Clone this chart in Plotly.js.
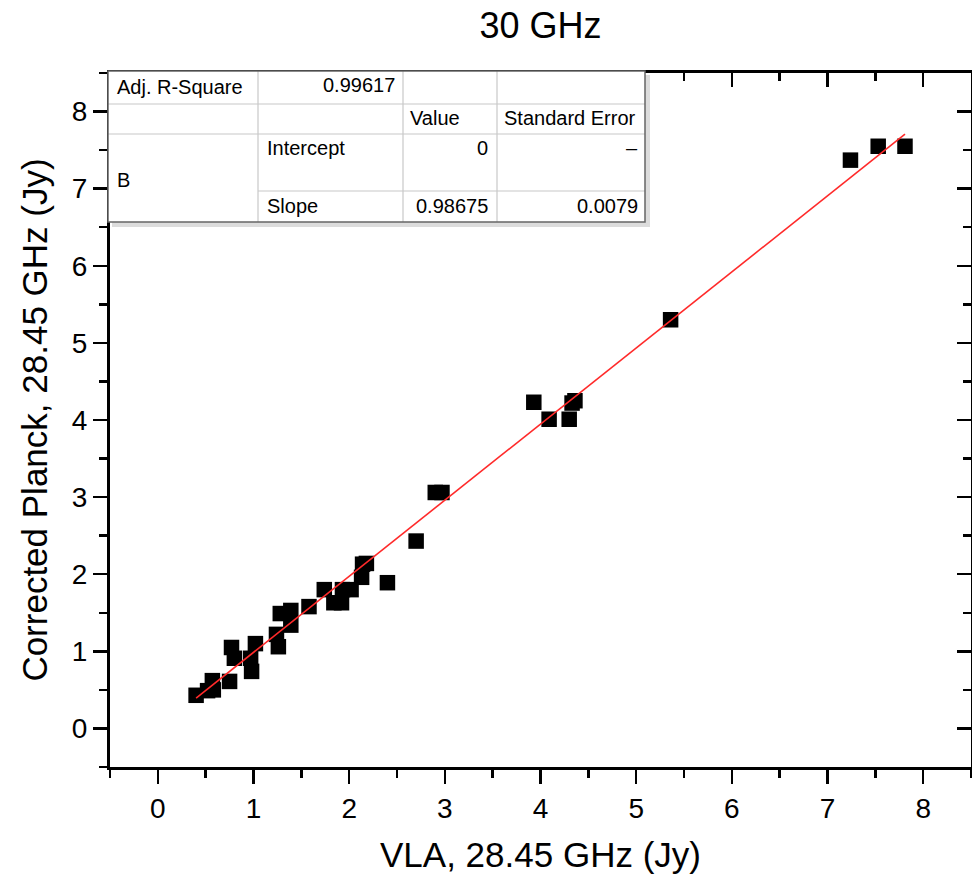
<!DOCTYPE html>
<html>
<head>
<meta charset="utf-8">
<script src="https://cdn.plot.ly/plotly-3.0.1.min.js"></script>
<style>html,body{margin:0;padding:0;background:#fff;}#chart{width:972px;height:877px;}</style>
</head>
<body>
<div id="chart"></div>
<script>
// ---- data ----
const vlaFlux = [0.40, 0.52, 0.58, 0.57, 0.75, 0.77, 0.80, 0.97, 0.98, 1.02,
                 1.24, 1.26, 1.28, 1.39, 1.39, 1.58, 1.74, 1.84, 1.92, 1.93,
                 2.02, 2.13, 2.14, 2.18, 2.40, 2.70, 2.90, 2.97, 3.93, 4.09,
                 4.30, 4.33, 4.36, 5.36, 7.24, 7.53, 7.81];
const planckFlux = [0.43, 0.49, 0.50, 0.62, 0.61, 1.05, 0.91, 0.91, 0.74, 1.10,
                    1.22, 1.06, 1.49, 1.53, 1.34, 1.58, 1.80, 1.63, 1.63, 1.80,
                    1.80, 1.96, 2.13, 2.14, 1.89, 2.43, 3.06, 3.06, 4.23, 4.01,
                    4.01, 4.22, 4.25, 5.30, 7.37, 7.55, 7.55];
const adjRSquare = 0.99617;
const fitIntercept = 0;
const fitSlope = 0.98675;
const slopeError = 0.0079;
const tickValues = [0, 1, 2, 3, 4, 5, 6, 7, 8];
const tickLabels = ['0', '1', '2', '3', '4', '5', '6', '7', '8'];
const chartTitle = '30 GHz';
const xTitle = 'VLA, 28.45 GHz (Jy)';
const yTitle = 'Corrected Planck, 28.45 GHz (Jy)';
const tableHeader = ['Value', 'Standard Error'];
const tableRows = ['Intercept', 'Slope'];
const tableGroup = 'B';

// ---- fit line from data ----
const fitX = [Math.min(...vlaFlux), Math.max(...vlaFlux)];
const fitY = fitX.map(x => fitIntercept + fitSlope * x);

// ---- layout geometry ----
const L = 110, T = 73, R = 1, B = 110;
const FIG_W = 972, FIG_H = 877;
const W = FIG_W - L - R, H = FIG_H - T - B;
const px = x => (x - L) / W;
const py = y => 1 - (y - T) / H;
const FONT = 'Liberation Sans, Arial, Helvetica, sans-serif';

const axisCommon = {
  range: [-0.5, 8.5],
  tickmode: 'array', tickvals: tickValues, ticktext: tickLabels,
  showline: true, linecolor: '#000', linewidth: 3,
  tickcolor: '#000', tickwidth: 2.5, ticklen: 14,
  showgrid: false, zeroline: false,
  minor: {tickmode: 'linear', tick0: 0.5, dtick: 1, ticklen: 8, tickwidth: 2.5, tickcolor: '#000', showgrid: false},
  tickfont: {family: FONT, size: 28, color: '#000'}
};

const traces = [
  {x: vlaFlux, y: planckFlux, type: 'scatter', mode: 'markers',
   marker: {symbol: 'square', size: 15.5, color: '#000', line: {width: 0}},
   showlegend: false, hoverinfo: 'x+y'},
  {x: fitX, y: fitY, type: 'scatter', mode: 'lines',
   line: {color: '#ff2a2a', width: 1.6}, showlegend: false},
  {x: [], y: [], xaxis: 'x2', yaxis: 'y2', type: 'scatter', mode: 'markers', showlegend: false, hoverinfo: 'skip'}
];

// table shapes
const tl = 108, tr = 645, tt = 71, tb = 222;
const colX = [258, 403, 497];
const rowY = [104, 134];
const shapes = [];
shapes.push({type: 'rect', xref: 'paper', yref: 'paper', x0: px(tl + 4), x1: px(tr + 5), y0: py(tt + 4), y1: py(tb + 5),
  fillcolor: '#dcdcdc', line: {width: 0}, layer: 'above'});
shapes.push({type: 'rect', xref: 'paper', yref: 'paper', x0: px(tl), x1: px(tr), y0: py(tt), y1: py(tb),
  fillcolor: '#fff', line: {width: 0}, layer: 'above'});
colX.forEach(c => shapes.push({type: 'line', xref: 'paper', yref: 'paper', x0: px(c), x1: px(c), y0: py(tt), y1: py(tb),
  line: {color: '#c8c8c8', width: 1.2}, layer: 'above'}));
rowY.forEach(r => shapes.push({type: 'line', xref: 'paper', yref: 'paper', x0: px(tl), x1: px(tr), y0: py(r), y1: py(r),
  line: {color: '#c8c8c8', width: 1.2}, layer: 'above'}));
shapes.push({type: 'line', xref: 'paper', yref: 'paper', x0: px(colX[0]), x1: px(tr), y0: py(191), y1: py(191),
  line: {color: '#c8c8c8', width: 1.2}, layer: 'above'});
shapes.push({type: 'rect', xref: 'paper', yref: 'paper', x0: px(tl), x1: px(tr), y0: py(tt), y1: py(tb),
  fillcolor: 'rgba(0,0,0,0)', line: {color: '#666', width: 1.5}, layer: 'above'});

const cellFont = {family: FONT, size: 20, color: '#000'};
function cell(text, x, y, anchor) {
  return {text: text, xref: 'paper', yref: 'paper', x: px(x), y: py(y), xanchor: anchor, yanchor: 'middle',
          showarrow: false, font: cellFont};
}
const annotations = [
  cell('Adj. R-Square', 115, 87, 'left'),
  cell(adjRSquare.toFixed(5), 397, 85, 'right'),
  cell(tableHeader[0], 408, 118, 'left'),
  cell(tableHeader[1], 502, 118, 'left'),
  cell(tableRows[0], 265, 148, 'left'),
  cell(String(fitIntercept), 490, 148, 'right'),
  cell('\u2013', 640, 148, 'right'),
  cell(tableGroup, 115, 180, 'left'),
  cell(tableRows[1], 265, 206, 'left'),
  cell(fitSlope.toFixed(5), 490, 206, 'right'),
  cell(String(slopeError), 640, 206, 'right')
];

const layout = {
  width: FIG_W, height: FIG_H,
  margin: {l: L, r: R, t: T, b: B, pad: 0},
  paper_bgcolor: '#fff', plot_bgcolor: '#fff',
  font: {family: FONT, color: '#000'},
  title: {text: chartTitle, x: 0.5, xref: 'paper', xanchor: 'center', y: 1 - 25 / FIG_H, yref: 'container', yanchor: 'middle',
          font: {family: FONT, size: 36, color: '#000'}},
  xaxis: Object.assign({}, axisCommon, {ticks: 'outside', minor: Object.assign({}, axisCommon.minor, {ticks: 'outside'}),
          title: {text: xTitle, font: {family: FONT, size: 35, color: '#000'}, standoff: 20}, automargin: false}),
  yaxis: Object.assign({}, axisCommon, {ticks: 'outside', minor: Object.assign({}, axisCommon.minor, {ticks: 'outside'}),
          title: {text: yTitle, font: {family: FONT, size: 35, color: '#000'}, standoff: 14}, automargin: false}),
  xaxis2: Object.assign({}, axisCommon, {overlaying: 'x', side: 'top', anchor: 'y2', ticks: 'inside', showticklabels: false,
          minor: Object.assign({}, axisCommon.minor, {ticks: 'inside'})}),
  yaxis2: Object.assign({}, axisCommon, {overlaying: 'y', side: 'right', anchor: 'x2', ticks: 'inside', showticklabels: false,
          minor: Object.assign({}, axisCommon.minor, {ticks: 'inside'})}),
  shapes: shapes,
  annotations: annotations,
  showlegend: false
};

Plotly.newPlot('chart', traces, layout, {staticPlot: true, displayModeBar: false});
</script>
</body>
</html>
